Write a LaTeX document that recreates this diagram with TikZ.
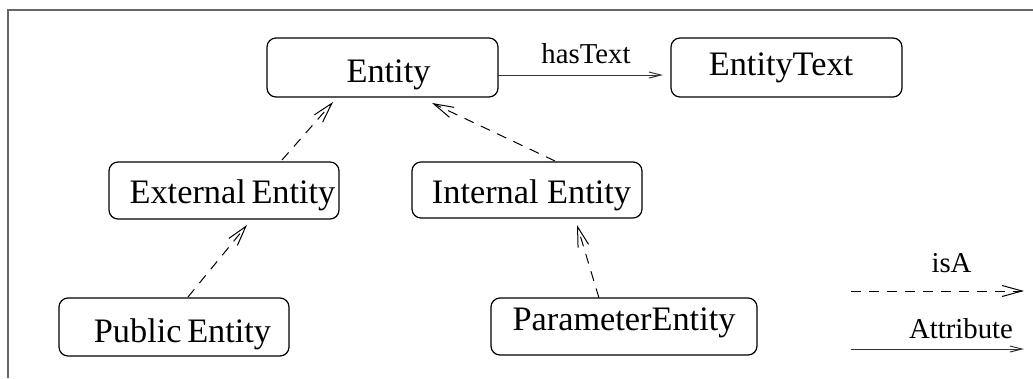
\documentclass[tikz,border=0pt]{standalone}
\usepackage{fontspec}
\setmainfont{Liberation Serif}
\usetikzlibrary{arrows.meta}
\tikzset{
  box/.style={draw, rounded corners=9pt, line width=1.2pt, inner sep=0pt, outer sep=0pt,
    text depth=0pt, font=\fontsize{34.3}{40}\selectfont, anchor=center},
  lbl/.style={inner sep=0pt, anchor=base, font=\fontsize{28.8}{32}\selectfont},
  isa/.style={line width=1pt, dash pattern=on 10pt off 8pt,
    -{Straight Barb[length=20pt,width=11pt,line width=1pt]}},
  attr/.style={line width=1pt, black!80,
    -{Straight Barb[length=12pt,width=6pt,line width=1pt]}},
  frame/.style={line width=1.3pt, black!60}
}
\begin{document}
\begin{tikzpicture}[x=1pt,y=-1pt]
\useasboundingbox (0,0) rectangle (1033,378);
% frame
\coordinate (f1) at (1033,10);
\coordinate (f2) at (8,10);
\coordinate (f3) at (8,378);
\draw[frame] (f1) -- (f2) -- (f3);
% boxes
\node[box, minimum width=231pt, minimum height=59pt, text height=29pt] (ent) at (382.5,67.5) {\hspace*{12pt}Entity};
\node[box, minimum width=231pt, minimum height=59pt, text height=15pt] (etext) at (786.5,67.5) {EntityText\hspace*{11pt}};
\node[box, minimum width=230pt, minimum height=57pt, text height=25pt] (ext) at (224,190.5) {\hspace*{17pt}External\,Entity};
\node[box, minimum width=230pt, minimum height=56pt, text height=26pt] (int) at (527,190) {\hspace*{9pt}Internal Entity};
\node[box, minimum width=230pt, minimum height=58pt, text height=30pt] (pub) at (174,327) {\hspace*{17pt}Public\,Entity};
\node[box, minimum width=266pt, minimum height=57pt, text height=7pt] (par) at (624,326.5) {ParameterEntity};
% attribute
\draw[attr] ([yshift=-7.5pt]ent.east) -- ([yshift=-7.5pt,xshift=-8pt]etext.west)
  node[lbl, midway, xshift=5.5pt, yshift=12pt, black] (hastext) {hasText};
% isA
\draw[isa] ([xshift=58pt,yshift=2pt]ext.north) -- ([xshift=-49.5pt,yshift=-5pt]ent.south);
\draw[isa] ([xshift=28pt,yshift=1pt]int.north) -- ([xshift=49.5pt,yshift=-6pt]ent.south);
\draw[isa] ([xshift=14pt,yshift=1pt]pub.north) -- ([xshift=23pt,yshift=-6pt]ext.south);
\draw[isa] ([xshift=-25pt]par.north) -- ([xshift=50pt,yshift=-7pt]int.south);
% legend
\coordinate (l1) at (851,291);
\coordinate (l2) at (1024,291);
\coordinate (l3) at (851,349);
\coordinate (l4) at (1024,349);
\draw[isa] (l1) -- (l2);
\draw[attr] (l3) -- (l4);
\node[lbl] (isalbl) at (951.5,272) {isA};
\node[lbl] (attrlbl) at (961,338) {Attribute};
\end{tikzpicture}
\end{document}
